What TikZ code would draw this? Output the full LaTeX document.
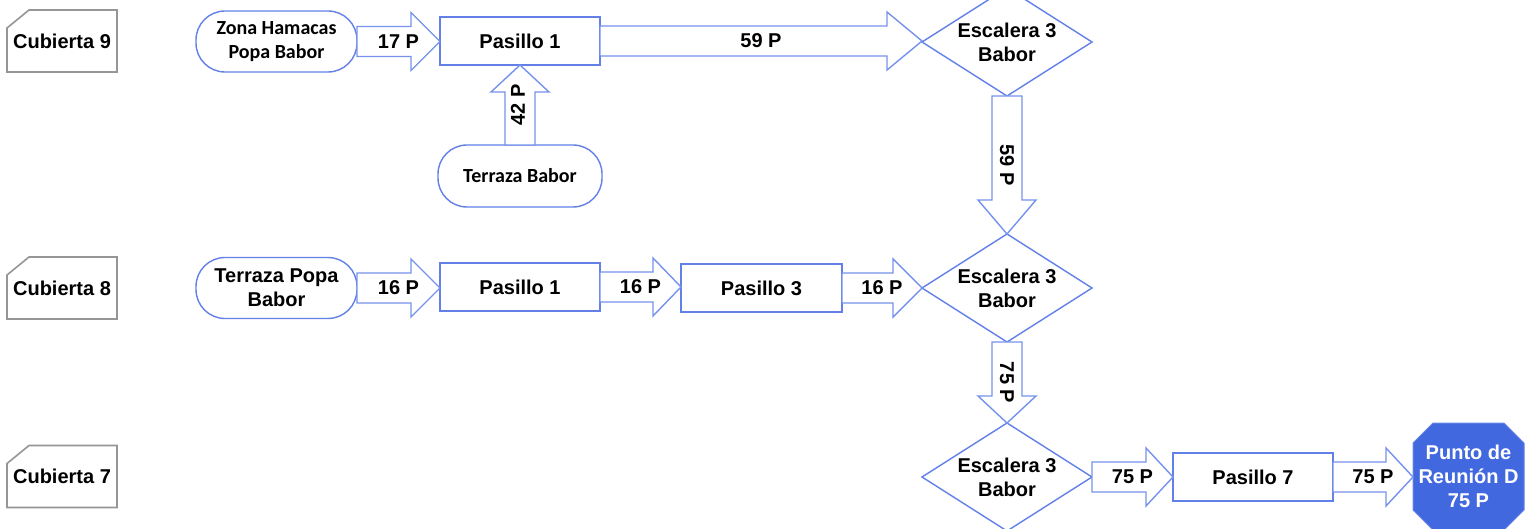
\documentclass[tikz,border=0pt]{standalone}
\usepackage{fontspec}
\setmainfont{Liberation Sans}
\newfontfamily\calfont{Carlito}
\usetikzlibrary{shapes.geometric,calc}

\definecolor{edgeblue}{RGB}{98,128,232}
\definecolor{arrowblue}{RGB}{118,146,236}
\definecolor{meetblue}{RGB}{66,104,224}
\definecolor{deckgray}{RGB}{150,150,150}

\tikzset{
  txt/.style={font=\fontsize{20}{24}\selectfont\bfseries, align=center, text=black},
  caltxt/.style={font=\fontsize{20}{24}\selectfont\calfont\bfseries, align=center, text=black},
  deckbox/.style={txt, rectangle, minimum width=110pt, minimum height=62pt, inner sep=0pt, outer sep=0pt},
  deckline/.style={draw=deckgray, line width=1.6pt, line join=miter},
  roombox/.style={txt, rectangle, draw=edgeblue, line width=1.4pt, minimum width=160pt, minimum height=48pt, inner sep=0pt, outer sep=0pt},
  areabox/.style={rectangle, rounded corners=29pt, draw=edgeblue, line width=1.4pt, minimum width=161pt, minimum height=61pt, inner sep=0pt, outer sep=0pt},
  stairbox/.style={diamond, draw=edgeblue, line width=1.4pt, minimum width=170pt, minimum height=108pt, inner sep=0pt, outer sep=0pt},
  meetbox/.style={txt, text=white, rectangle, minimum width=111pt, minimum height=107pt, inner sep=0pt, outer sep=0pt},
  meetline/.style={fill=meetblue, draw=meetblue!80!white, line width=1pt, line join=miter},
  blk/.style={draw=arrowblue, line width=1.4pt, fill=white, line join=miter},
  lbl/.style={txt, inner sep=0pt}
}

% horizontal block arrow: from, to, label, head length, label name
\newcommand\hblk[5]{%
  \draw[blk] let \p1=(#1.east), \p2=(#2.west) in
    (\x1,\y1+15pt) -- (\x2-#4pt,\y1+15pt) -- (\x2-#4pt,\y1+29pt) -- (\x2,\y1)
    -- (\x2-#4pt,\y1-29pt) -- (\x2-#4pt,\y1-15pt) -- (\x1,\y1-15pt) -- cycle;
  \path let \p1=(#1.east), \p2=(#2.west) in
    node[lbl] (#5) at ({(\x1+\x2)/2},\y1) {#3};
}
% downward block arrow
\newcommand\dblk[5]{%
  \draw[blk] let \p1=(#1.south), \p2=(#2.north) in
    (\x1-15pt,\y1) -- (\x1-15pt,\y2+#4pt) -- (\x1-29pt,\y2+#4pt) -- (\x1,\y2)
    -- (\x1+29pt,\y2+#4pt) -- (\x1+15pt,\y2+#4pt) -- (\x1+15pt,\y1) -- cycle;
  \path let \p1=(#1.south), \p2=(#2.north) in
    node[lbl, rotate=-90] (#5) at (\x1,{(\y1+\y2)/2}) {#3};
}
% upward block arrow
\newcommand\ublk[5]{%
  \draw[blk] let \p1=(#1.north), \p2=(#2.south) in
    (\x1-15pt,\y1) -- (\x1-15pt,\y2-#4pt) -- (\x1-29pt,\y2-#4pt) -- (\x1,\y2)
    -- (\x1+29pt,\y2-#4pt) -- (\x1+15pt,\y2-#4pt) -- (\x1+15pt,\y1) -- cycle;
  \path let \p1=(#1.north), \p2=(#2.south) in
    node[lbl, rotate=90] (#5) at (\x1-2pt,{(\y1+\y2)/2}) {#3};
}
% deck tag with a clipped upper-left corner
\newcommand\decktag[1]{%
  \draw[deckline] (#1.south west) -- ([yshift=-18pt]#1.north west) -- ([xshift=22pt]#1.north west)
    -- (#1.north east) -- (#1.south east) -- cycle;
}
% octagon drawn round a node
\newcommand\octo[2]{%
  \path[meetline] ([yshift=#2pt]#1.south west) -- ([yshift=-#2pt]#1.north west)
    -- ([xshift=#2pt]#1.north west) -- ([xshift=-#2pt]#1.north east)
    -- ([yshift=-#2pt]#1.north east) -- ([yshift=#2pt]#1.south east)
    -- ([xshift=-#2pt]#1.south east) -- ([xshift=#2pt]#1.south west) -- cycle;
}

\begin{document}
\begin{tikzpicture}[x=1pt, y=-1pt]
  \fill[white] (0,0) rectangle (1531,529);
  \useasboundingbox (0,0) rectangle (1531,529);

  % deck tags
  \node[deckbox] (c9) at (62,41) {Cubierta 9};
  \node[deckbox] (c8) at (62,288) {Cubierta 8};
  \node[deckbox] (c7) at (62,476.5) {Cubierta 7};
  \decktag{c9}
  \decktag{c8}
  \decktag{c7}

  % deck 9
  \node[areabox, caltxt] (hamacas) at (276.5,41.5) {Zona Hamacas\\Popa Babor};
  \node[roombox] (p9) at (520,41) {Pasillo 1};
  \node[areabox, caltxt, minimum width=164pt, minimum height=62pt] (terraza9) at (520,176) {Terraza Babor};
  \node[stairbox] (esc9) at (1007,42) {};
  \node[txt] (esc9t) at (esc9) {Escalera 3\\Babor};

  % deck 8
  \node[areabox, txt] (popa8) at (276.5,288) {Terraza Popa\\Babor};
  \node[roombox] (p8a) at (520,287) {Pasillo 1};
  \node[roombox, minimum width=161pt] (p8b) at (761.5,288) {Pasillo 3};
  \node[stairbox] (esc8) at (1007,288) {};
  \node[txt] (esc8t) at (esc8) {Escalera 3\\Babor};

  % deck 7
  \node[stairbox] (esc7) at (1007,477) {};
  \node[txt] (esc7t) at (esc7) {Escalera 3\\Babor};
  \node[roombox] (p7) at (1253,477) {Pasillo 7};
  \node[meetbox] (meet) at (1468.5,476.5) {};
  \octo{meet}{20}
  \node[txt, text=white] (meett) at (meet) {Punto de\\Reunión D\\75 P};

  % flows
  \hblk{hamacas}{p9}{17 P}{29}{f1}
  \ublk{terraza9}{p9}{42 P}{27}{f2}
  \hblk{p9}{esc9}{59 P}{35}{f3}
  \dblk{esc9}{esc8}{59 P}{34}{f4}
  \hblk{popa8}{p8a}{16 P}{29}{f5}
  \hblk{p8a}{p8b}{16 P}{28}{f6}
  \hblk{p8b}{esc8}{16 P}{29}{f7}
  \dblk{esc8}{esc7}{75 P}{27}{f8}
  \hblk{esc7}{p7}{75 P}{27}{f9}
  \hblk{p7}{meet}{75 P}{27}{f10}
\end{tikzpicture}
\end{document}
